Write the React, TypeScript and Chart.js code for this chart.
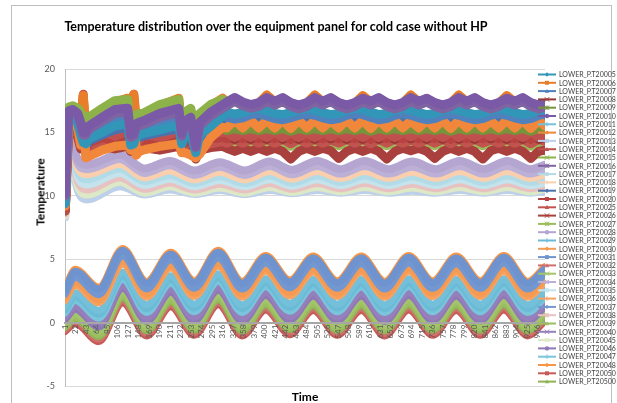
import React, { useEffect, useRef } from "react";
import { Chart, registerables } from "chart.js";

Chart.register(...registerables);

// ---------- category tick labels (Time axis) ----------
const X_TICKS = [1, 22, 43, 64, 85, 106, 127, 148, 169, 190, 211, 232, 253, 274, 295, 316, 337, 358, 379, 400, 421, 442, 463, 484, 505, 526, 547, 568, 589, 610, 631, 652, 673, 694, 715, 736, 757, 778, 799, 820, 841, 862, 883, 904, 925, 946];

// ---------- sample times (x) for each family of sensors ----------
const T_UP = [1, 4, 8, 16, 26, 32, 37, 42, 48, 75, 100, 126, 132, 138, 143, 149, 156, 190, 228, 234, 240, 252, 262, 270, 292, 316,
  324, 340, 356, 372, 388, 404, 420, 436, 452, 468, 484, 500, 516, 532, 548, 564, 580, 596, 612, 628, 644, 660, 676, 692, 708, 724, 740, 756, 772, 788, 804, 820, 836, 852, 868, 884, 900, 916, 932, 948, 960];
const T_MID = [1, 6, 12, 18, 26, 45, 110, 160, 210, 260, 310, 360, 410, 455, 505, 552, 600, 648, 695, 742, 790, 838, 885, 932, 960];
const T_LOW = [1, 21, 68, 116, 164, 212, 259, 307, 355, 402, 450, 497, 545, 593, 640, 688, 736, 783, 831, 878, 926, 960];

// ---------- upper sensors (13 - 18 °C) ----------
const P_T20005 = [9.4, 13.0, 16.3, 16.4, 15.7, 14.8, 14.2, 14.1, 14.5, 15.0, 15.5, 15.7, 14.0, 14.1, 14.7, 14.8, 14.9, 15.2, 15.6, 14.1, 14.8, 15.1, 13.4, 14.8, 15.5, 16.3,
  16.6, 16.45, 16.55, 16.8, 16.9, 16.7, 16.5, 16.4, 16.55, 16.75, 16.9, 16.75, 16.55, 16.4, 16.5, 16.75, 16.9, 16.8, 16.6, 16.4,
  16.5, 16.75, 16.9, 16.75, 16.55, 16.4, 16.5, 16.75, 16.9, 16.75, 16.55, 16.4, 16.5, 16.75, 16.9, 16.75, 16.55, 16.4, 16.5, 16.75, 16.85];
const P_T20006 = [10.5, 14.2, 16.9, 17.0, 16.8, 16.3, 17.9, 15.5, 16.0, 16.8, 17.4, 17.7, 15.2, 18.0, 16.2, 16.3, 16.4, 17.1, 17.7, 15.3, 16.4, 16.8, 14.2, 16.3, 17.1, 17.7,
  17.35, 17.7, 17.35, 17.15, 17.3, 17.95, 17.4, 17.7, 17.3, 17.1, 17.3, 17.95, 17.4, 17.7, 17.3, 17.1, 17.3, 17.9, 17.4, 17.7,
  17.3, 17.1, 17.3, 17.95, 17.4, 17.65, 17.3, 17.1, 17.3, 17.95, 17.4, 17.7, 17.3, 17.1, 17.3, 17.9, 17.4, 17.7, 17.3, 17.1, 17.25];
const P_T20007 = [9.8, 13.4, 16.5, 16.6, 16.1, 15.2, 14.6, 14.5, 14.9, 15.6, 16.1, 16.3, 14.4, 14.5, 15.1, 15.2, 15.3, 15.8, 16.2, 14.5, 15.3, 15.6, 13.6, 15.2, 15.9, 16.4,
  16.2, 16.05, 16.15, 16.4, 16.5, 16.3, 16.1, 16.0, 16.15, 16.35, 16.5, 16.35, 16.15, 16.0, 16.1, 16.35, 16.5, 16.4, 16.2, 16.0,
  16.1, 16.35, 16.5, 16.35, 16.15, 16.0, 16.1, 16.35, 16.5, 16.35, 16.15, 16.0, 16.1, 16.35, 16.5, 16.35, 16.15, 16.0, 16.1, 16.35, 16.45];
const P_T20008 = [10.3, 14.0, 16.8, 16.9, 16.6, 16.0, 15.2, 15.2, 15.8, 16.6, 17.2, 17.3, 15.0, 15.2, 16.0, 16.1, 16.2, 16.9, 17.3, 15.1, 16.2, 16.5, 14.0, 16.1, 16.9, 17.3,
  14.75, 14.45, 14.75, 14.45, 14.75, 14.45, 14.8, 14.45, 14.75, 14.45, 14.75, 14.45, 14.75, 14.5, 14.75, 14.45, 14.75, 14.45, 14.8, 14.45,
  14.75, 14.45, 14.75, 14.5, 14.75, 14.45, 14.75, 14.45, 14.8, 14.45, 14.75, 14.45, 14.75, 14.5, 14.75, 14.45, 14.75, 14.45, 14.8, 14.45, 14.6];
const P_T20009 = [9.6, 13.2, 16.4, 16.5, 15.9, 15.0, 14.4, 14.3, 14.7, 15.3, 15.8, 16.0, 14.2, 14.3, 14.9, 15.0, 15.1, 15.5, 15.9, 14.3, 15.0, 15.3, 13.5, 15.0, 15.6, 16.1,
  15.15, 15.3, 15.15, 15.3, 15.15, 15.3, 15.15, 15.3, 15.1, 15.3, 15.15, 15.3, 15.15, 15.3, 15.15, 15.3, 15.15, 15.3, 15.1, 15.3,
  15.15, 15.3, 15.15, 15.3, 15.15, 15.3, 15.15, 15.3, 15.1, 15.3, 15.15, 15.3, 15.15, 15.3, 15.15, 15.3, 15.15, 15.3, 15.1, 15.3, 15.2];
const P_T20010 = [10.2, 13.8, 16.7, 16.8, 16.5, 15.8, 15.0, 15.0, 15.5, 16.2, 16.8, 16.9, 14.8, 14.9, 15.7, 15.8, 15.9, 16.5, 16.9, 14.9, 15.9, 16.2, 13.9, 15.8, 16.6, 17.2,
  17.4, 17.75, 17.4, 17.2, 17.35, 17.75, 17.45, 17.75, 17.35, 17.15, 17.35, 17.75, 17.45, 17.75, 17.35, 17.15, 17.35, 17.7, 17.45, 17.75,
  17.35, 17.15, 17.35, 17.75, 17.45, 17.7, 17.35, 17.15, 17.35, 17.75, 17.45, 17.75, 17.35, 17.15, 17.35, 17.7, 17.45, 17.75, 17.35, 17.15, 17.3];
const P_T20012 = [9.2, 12.5, 16.0, 16.2, 15.3, 14.0, 17.9, 13.0, 13.1, 13.6, 13.9, 14.0, 13.6, 17.8, 13.2, 13.5, 13.6, 13.9, 14.1, 13.4, 13.4, 13.2, 13.0, 13.3, 14.6, 15.4,
  15.35, 15.95, 15.35, 15.95, 15.35, 15.95, 15.35, 15.95, 15.3, 15.95, 15.35, 15.95, 15.35, 15.9, 15.35, 15.95, 15.35, 15.95, 15.3, 15.95,
  15.35, 15.95, 15.35, 15.9, 15.35, 15.95, 15.35, 15.95, 15.3, 15.95, 15.35, 15.95, 15.35, 15.9, 15.35, 15.95, 15.35, 15.95, 15.3, 15.95, 15.5];
const P_T20014 = [9.1, 12.4, 15.9, 16.1, 15.2, 14.5, 18.0, 14.0, 14.6, 15.1, 14.7, 15.1, 14.2, 18.0, 14.0, 14.4, 14.9, 14.6, 15.1, 14.3, 14.5, 14.9, 13.4, 14.4, 14.9, 15.0,
  15.0, 14.6, 15.0, 14.6, 15.0, 14.6, 15.05, 14.6, 15.0, 14.6, 15.0, 14.6, 15.0, 14.65, 15.0, 14.6, 15.0, 14.6, 15.05, 14.6,
  15.0, 14.6, 15.0, 14.65, 15.0, 14.6, 15.0, 14.6, 15.05, 14.6, 15.0, 14.6, 15.0, 14.65, 15.0, 14.6, 15.0, 14.6, 15.05, 14.6, 14.8];
const P_T20015 = [10.8, 14.5, 17.0, 17.1, 16.9, 16.6, 15.0, 16.3, 16.2, 16.9, 17.5, 17.6, 14.8, 15.5, 16.4, 16.5, 16.5, 17.2, 17.6, 15.0, 16.6, 16.9, 14.5, 16.5, 17.2, 17.6,
  17.25, 17.6, 17.25, 17.05, 17.2, 17.6, 17.3, 17.6, 17.2, 17.0, 17.2, 17.6, 17.3, 17.6, 17.2, 17.0, 17.2, 17.55, 17.3, 17.6,
  17.2, 17.0, 17.2, 17.6, 17.3, 17.55, 17.2, 17.0, 17.2, 17.6, 17.3, 17.6, 17.2, 17.0, 17.2, 17.55, 17.3, 17.6, 17.2, 17.0, 17.15];
const P_T20016 = [10.0, 13.6, 16.6, 16.7, 16.3, 15.5, 14.8, 14.8, 15.2, 15.9, 16.5, 16.6, 14.6, 14.7, 15.4, 15.5, 15.6, 16.2, 16.6, 14.7, 15.6, 15.9, 13.8, 15.5, 16.3, 16.9,
  17.1, 17.45, 17.1, 16.9, 17.05, 17.45, 17.15, 17.45, 17.05, 16.85, 17.05, 17.45, 17.15, 17.45, 17.05, 16.85, 17.05, 17.4, 17.15, 17.45,
  17.05, 16.85, 17.05, 17.45, 17.15, 17.4, 17.05, 16.85, 17.05, 17.45, 17.15, 17.45, 17.05, 16.85, 17.05, 17.4, 17.15, 17.45, 17.05, 16.85, 17.0];
const P_T20019 = [9.3, 12.8, 16.2, 16.3, 15.5, 14.6, 14.0, 13.9, 14.3, 14.8, 15.2, 15.4, 13.9, 14.0, 14.5, 14.6, 14.7, 15.0, 15.3, 14.0, 14.6, 14.9, 13.3, 14.6, 15.2, 15.9,
  15.85, 15.9, 15.85, 15.9, 15.85, 15.9, 15.85, 15.9, 15.85, 15.9, 15.85, 15.9, 15.85, 15.9, 15.85, 15.9, 15.85, 15.9, 15.85, 15.9,
  15.85, 15.9, 15.85, 15.9, 15.85, 15.9, 15.85, 15.9, 15.85, 15.9, 15.85, 15.9, 15.85, 15.9, 15.85, 15.9, 15.85, 15.9, 15.85, 15.9, 15.85];
const P_T20020 = [9.0, 12.2, 15.8, 16.0, 15.0, 14.2, 16.5, 13.7, 14.2, 14.6, 14.3, 14.7, 13.9, 17.5, 13.7, 14.0, 14.5, 14.2, 14.7, 14.0, 14.2, 14.5, 13.2, 14.1, 14.5, 14.6,
  14.5, 14.9, 14.5, 14.9, 14.5, 14.9, 14.5, 14.9, 14.45, 14.9, 14.5, 14.9, 14.5, 14.85, 14.5, 14.9, 14.5, 14.9, 14.45, 14.9,
  14.5, 14.9, 14.5, 14.85, 14.5, 14.9, 14.5, 14.9, 14.45, 14.9, 14.5, 14.9, 14.5, 14.85, 14.5, 14.9, 14.5, 14.9, 14.45, 14.9, 14.7];
const P_T20025 = [8.9, 12.0, 15.6, 15.8, 14.8, 13.9, 15.5, 13.5, 13.9, 14.2, 14.0, 14.3, 13.7, 16.5, 13.5, 13.8, 14.1, 13.9, 14.3, 13.7, 13.9, 14.1, 13.0, 13.8, 14.1, 14.3,
  14.15, 14.45, 14.15, 14.45, 14.15, 14.45, 14.15, 14.45, 14.1, 14.45, 14.15, 14.45, 14.15, 14.4, 14.15, 14.45, 14.15, 14.45, 14.1, 14.45,
  14.15, 14.45, 14.15, 14.4, 14.15, 14.45, 14.15, 14.45, 14.1, 14.45, 14.15, 14.45, 14.15, 14.4, 14.15, 14.45, 14.15, 14.45, 14.1, 14.45, 14.3];
const P_T20026 = [8.8, 11.8, 15.4, 15.6, 14.6, 13.7, 14.5, 13.3, 13.6, 13.9, 13.7, 13.9, 13.5, 15.5, 13.3, 13.6, 13.8, 13.6, 13.9, 13.5, 13.6, 13.8, 12.9, 13.6, 13.8, 13.9,
  13.75, 13.5, 13.75, 13.5, 13.75, 13.5, 13.75, 13.5, 12.9, 13.5, 13.75, 13.5, 13.75, 13.55, 12.95, 13.5, 13.75, 13.5, 13.75, 13.5,
  12.9, 13.5, 13.75, 13.55, 13.75, 13.5, 12.95, 13.5, 13.75, 13.5, 13.75, 13.5, 12.9, 13.55, 13.75, 13.5, 13.75, 13.5, 12.95, 13.5, 13.6];
const P_T20027 = [8.8, 12.0, 15.5, 15.7, 14.7, 13.8, 14.8, 13.4, 13.8, 14.4, 14.2, 14.5, 13.6, 16.0, 13.4, 13.7, 14.3, 14.0, 14.5, 13.6, 13.8, 14.3, 13.1, 13.7, 14.3, 14.5,
  13.95, 14.2, 13.95, 14.2, 13.95, 14.2, 13.95, 14.2, 13.9, 14.2, 13.95, 14.2, 13.95, 14.15, 13.95, 14.2, 13.95, 14.2, 13.9, 14.2,
  13.95, 14.2, 13.95, 14.15, 13.95, 14.2, 13.95, 14.2, 13.9, 14.2, 13.95, 14.2, 13.95, 14.15, 13.95, 14.2, 13.95, 14.2, 13.9, 14.2, 14.05];

// ---------- middle sensors (10 - 13.5 °C) ----------
const P_T20028 = [9.6, 13.5, 16.6, 14.2, 12.9, 12.45, 13.25, 12.15, 12.75, 12.0, 12.65, 12.0, 12.7, 12.05, 12.75, 12.1, 12.75, 12.1, 12.7, 12.1, 12.75, 12.1, 12.75, 12.1, 12.45];
const P_T20034 = [9.4, 13.2, 16.4, 13.9, 12.55, 12.1, 12.9, 11.8, 12.4, 11.65, 12.3, 11.65, 12.35, 11.7, 12.35, 11.75, 12.35, 11.75, 12.3, 11.75, 12.35, 11.75, 12.35, 11.75, 12.05];
const P_T20018 = [9.2, 12.9, 16.2, 13.6, 12.2, 11.7, 12.5, 11.45, 12.0, 11.3, 11.9, 11.3, 11.95, 11.35, 11.95, 11.4, 11.95, 11.4, 11.9, 11.4, 11.95, 11.4, 11.95, 11.4, 11.7];
const P_T20017 = [9.0, 12.6, 16.0, 13.3, 11.85, 11.3, 12.15, 11.15, 11.65, 11.0, 11.55, 11.0, 11.6, 11.05, 11.6, 11.1, 11.6, 11.1, 11.55, 11.1, 11.6, 11.1, 11.6, 11.1, 11.35];
const P_T20035 = [8.8, 12.3, 15.8, 13.0, 11.5, 10.9, 11.8, 10.85, 11.35, 10.75, 11.25, 10.75, 11.3, 10.8, 11.3, 10.85, 11.3, 10.85, 11.25, 10.85, 11.3, 10.85, 11.3, 10.85, 11.05];
const P_T20038 = [8.6, 12.0, 15.6, 12.7, 11.15, 10.5, 11.45, 10.55, 11.05, 10.5, 10.95, 10.5, 11.0, 10.55, 11.0, 10.6, 11.0, 10.6, 10.95, 10.6, 11.0, 10.6, 11.0, 10.6, 10.8];
const P_T20045 = [8.45, 11.7, 15.3, 12.4, 10.8, 10.1, 11.1, 10.25, 10.75, 10.25, 10.65, 10.25, 10.7, 10.3, 10.7, 10.35, 10.7, 10.35, 10.65, 10.35, 10.7, 10.35, 10.7, 10.35, 10.55];
const P_T20013 = [8.3, 11.4, 15.0, 12.1, 10.45, 9.7, 10.75, 10.1, 10.5, 10.15, 10.45, 10.15, 10.45, 10.2, 10.45, 10.25, 10.45, 10.25, 10.4, 10.25, 10.45, 10.25, 10.45, 10.25, 10.35];

// ---------- lower sensors (-1.5 - 6 °C) ----------
const P_T20048 = [2.74, 4.2, 2.8, 5.85, 3.25, 5.55, 3.3, 5.7, 3.25, 5.3, 3.35, 5.25, 3.3, 5.25, 3.25, 5.3, 3.3, 5.25, 3.3, 5.3, 3.25, 4.4];
const P_T20031 = [2.62, 4.05, 2.65, 5.7, 3.1, 5.4, 3.15, 5.55, 3.1, 5.15, 3.2, 5.1, 3.15, 5.1, 3.1, 5.15, 3.15, 5.1, 3.15, 5.15, 3.1, 4.25];
const P_T20037 = [2.26, 3.6, 2.2, 5.25, 2.65, 4.95, 2.7, 5.1, 2.65, 4.7, 2.75, 4.65, 2.7, 4.65, 2.65, 4.7, 2.7, 4.65, 2.7, 4.7, 2.65, 3.8];
const P_T20030 = [1.94, 3.2, 1.8, 4.85, 2.25, 4.55, 2.3, 4.7, 2.25, 4.3, 2.35, 4.25, 2.3, 4.25, 2.25, 4.3, 2.3, 4.25, 2.3, 4.3, 2.25, 3.4];
const P_T20036 = [1.74, 2.95, 1.55, 4.6, 2.0, 4.3, 2.05, 4.45, 2.0, 4.05, 2.1, 4.0, 2.05, 4.0, 2.0, 4.05, 2.05, 4.0, 2.05, 4.05, 2.0, 3.15];
const P_T20011 = [1.26, 2.35, 0.95, 4.0, 1.4, 3.7, 1.45, 3.85, 1.4, 3.45, 1.5, 3.4, 1.45, 3.4, 1.4, 3.45, 1.45, 3.4, 1.45, 3.45, 1.4, 2.55];
const P_T20029 = [1.02, 2.05, 0.65, 3.7, 1.1, 3.4, 1.15, 3.55, 1.1, 3.15, 1.2, 3.1, 1.15, 3.1, 1.1, 3.15, 1.15, 3.1, 1.15, 3.15, 1.1, 2.25];
const P_T20047 = [0.78, 1.75, 0.35, 3.4, 0.8, 3.1, 0.85, 3.25, 0.8, 2.85, 0.9, 2.8, 0.85, 2.8, 0.8, 2.85, 0.85, 2.8, 0.85, 2.85, 0.8, 1.95];
const P_T20040 = [0.42, 1.3, -0.1, 2.95, 0.35, 2.65, 0.4, 2.8, 0.35, 2.4, 0.45, 2.35, 0.4, 2.35, 0.35, 2.4, 0.4, 2.35, 0.4, 2.4, 0.35, 1.5];
const P_T20046 = [0.22, 1.05, -0.35, 2.7, 0.1, 2.4, 0.15, 2.55, 0.1, 2.15, 0.2, 2.1, 0.15, 2.1, 0.1, 2.15, 0.15, 2.1, 0.15, 2.15, 0.1, 1.25];
const P_T20033 = [-0.06, 0.7, -0.7, 2.35, -0.25, 2.05, -0.2, 2.2, -0.25, 1.8, -0.15, 1.75, -0.2, 1.75, -0.25, 1.8, -0.2, 1.75, -0.2, 1.8, -0.25, 0.9];
const P_T20039 = [-0.26, 0.45, -0.95, 2.1, -0.5, 1.8, -0.45, 1.95, -0.5, 1.55, -0.4, 1.5, -0.45, 1.5, -0.5, 1.55, -0.45, 1.5, -0.45, 1.55, -0.5, 0.65];
const P_T20500 = [-0.38, 0.3, -1.1, 1.95, -0.65, 1.65, -0.6, 1.8, -0.65, 1.4, -0.55, 1.35, -0.6, 1.35, -0.65, 1.4, -0.6, 1.35, -0.6, 1.4, -0.65, 0.5];
const P_T20032 = [-0.54, 0.1, -1.3, 1.75, -0.85, 1.45, -0.8, 1.6, -0.85, 1.2, -0.75, 1.15, -0.8, 1.15, -0.85, 1.2, -0.8, 1.15, -0.8, 1.2, -0.85, 0.3];
const P_T20050 = [-0.7, -0.1, -1.5, 1.55, -1.05, 1.25, -1.0, 1.4, -1.05, 1.0, -0.95, 0.95, -1.0, 0.95, -1.05, 1.0, -1.0, 0.95, -1.0, 1.0, -1.05, 0.1];

// ---------- series table (legend order) ----------
const SERIES = [
  { name: "LOWER_P.T20005", t: T_UP, v: P_T20005 },
  { name: "LOWER_P.T20006", t: T_UP, v: P_T20006 },
  { name: "LOWER_P.T20007", t: T_UP, v: P_T20007 },
  { name: "LOWER_P.T20008", t: T_UP, v: P_T20008 },
  { name: "LOWER_P.T20009", t: T_UP, v: P_T20009 },
  { name: "LOWER_P.T20010", t: T_UP, v: P_T20010 },
  { name: "LOWER_P.T20011", t: T_LOW, v: P_T20011 },
  { name: "LOWER_P.T20012", t: T_UP, v: P_T20012 },
  { name: "LOWER_P.T20013", t: T_MID, v: P_T20013 },
  { name: "LOWER_P.T20014", t: T_UP, v: P_T20014 },
  { name: "LOWER_P.T20015", t: T_UP, v: P_T20015 },
  { name: "LOWER_P.T20016", t: T_UP, v: P_T20016 },
  { name: "LOWER_P.T20017", t: T_MID, v: P_T20017 },
  { name: "LOWER_P.T20018", t: T_MID, v: P_T20018 },
  { name: "LOWER_P.T20019", t: T_UP, v: P_T20019 },
  { name: "LOWER_P.T20020", t: T_UP, v: P_T20020 },
  { name: "LOWER_P.T20025", t: T_UP, v: P_T20025 },
  { name: "LOWER_P.T20026", t: T_UP, v: P_T20026 },
  { name: "LOWER_P.T20027", t: T_UP, v: P_T20027 },
  { name: "LOWER_P.T20028", t: T_MID, v: P_T20028 },
  { name: "LOWER_P.T20029", t: T_LOW, v: P_T20029 },
  { name: "LOWER_P.T20030", t: T_LOW, v: P_T20030 },
  { name: "LOWER_P.T20031", t: T_LOW, v: P_T20031 },
  { name: "LOWER_P.T20032", t: T_LOW, v: P_T20032 },
  { name: "LOWER_P.T20033", t: T_LOW, v: P_T20033 },
  { name: "LOWER_P.T20034", t: T_MID, v: P_T20034 },
  { name: "LOWER_P.T20035", t: T_MID, v: P_T20035 },
  { name: "LOWER_P.T20036", t: T_LOW, v: P_T20036 },
  { name: "LOWER_P.T20037", t: T_LOW, v: P_T20037 },
  { name: "LOWER_P.T20038", t: T_MID, v: P_T20038 },
  { name: "LOWER_P.T20039", t: T_LOW, v: P_T20039 },
  { name: "LOWER_P.T20040", t: T_LOW, v: P_T20040 },
  { name: "LOWER_P.T20045", t: T_MID, v: P_T20045 },
  { name: "LOWER_P.T20046", t: T_LOW, v: P_T20046 },
  { name: "LOWER_P.T20047", t: T_LOW, v: P_T20047 },
  { name: "LOWER_P.T20048", t: T_LOW, v: P_T20048 },
  { name: "LOWER_P.T20050", t: T_LOW, v: P_T20050 },
  { name: "LOWER_P.T20500", t: T_LOW, v: P_T20500 },
];

// ---------- styles ----------
const COLORS = [
  "#3296B9", "#E87D2A", "#4F81BD", "#953735", "#77933C", "#7A5AA6", "#74C0DA", "#F0873A",
  "#BCD0EA", "#C0504D", "#8DB24A", "#8064A2", "#B2DBE8", "#F9CFAE", "#4A73AE", "#B8423F",
  "#C25450", "#A9403D", "#9BBB59", "#B4A6D0", "#6CBBD6", "#F59A52", "#6F93CE", "#D0706C",
  "#A3C46A", "#BDB0D6", "#C4E3EC", "#F7A260", "#7397D0", "#E7C2C1", "#9BBE60", "#9580BC",
  "#DDE8C6", "#8E78B6", "#7AC4DC", "#F79646", "#C75A56", "#8FB456",
];
const DRAW_ORDER = [
  5, 4, 6, 12, 9, 1, 35, 7, 27, 10, 3, 2, 23, 22, 8, 11, 13, 14, 15, 20,
  36, 33, 30, 43, 40, 21, 24, 34, 31, 25, 41, 38, 26, 39, 37, 32, 44, 42,
];
const LINE_WIDTH: Record<string, number> = { up: 9, mid: 8, low: 7 };
const LEGEND_MARKERS = ["diamond", "square", "triangle", "cross", "star", "circle", "plus"];

function drawMarker(ctx: CanvasRenderingContext2D, shape: string, x: number, y: number, color: string) {
  const r = 2.2;
  ctx.fillStyle = color;
  ctx.strokeStyle = color;
  ctx.lineWidth = 1;
  ctx.beginPath();
  if (shape === "diamond") {
    ctx.moveTo(x, y - r); ctx.lineTo(x + r, y); ctx.lineTo(x, y + r); ctx.lineTo(x - r, y); ctx.closePath(); ctx.fill();
  } else if (shape === "square") {
    ctx.rect(x - r * 0.9, y - r * 0.9, r * 1.8, r * 1.8); ctx.fill();
  } else if (shape === "triangle") {
    ctx.moveTo(x, y - r); ctx.lineTo(x + r, y + r * 0.8); ctx.lineTo(x - r, y + r * 0.8); ctx.closePath(); ctx.fill();
  } else if (shape === "cross") {
    ctx.moveTo(x - r, y - r); ctx.lineTo(x + r, y + r); ctx.moveTo(x + r, y - r); ctx.lineTo(x - r, y + r); ctx.stroke();
  } else if (shape === "star") {
    ctx.moveTo(x - r, y - r); ctx.lineTo(x + r, y + r); ctx.moveTo(x + r, y - r); ctx.lineTo(x - r, y + r);
    ctx.moveTo(x, y - r); ctx.lineTo(x, y + r); ctx.stroke();
  } else if (shape === "circle") {
    ctx.arc(x, y, r, 0, Math.PI * 2); ctx.fill();
  } else {
    ctx.moveTo(x - r, y); ctx.lineTo(x + r, y); ctx.moveTo(x, y - r); ctx.lineTo(x, y + r); ctx.stroke();
  }
}

const sideLegend = {
  id: "sideLegend",
  afterDraw(chart: any) {
    const ctx: CanvasRenderingContext2D = chart.ctx;
    ctx.save();
    chart.data.datasets.forEach((ds: any, i: number) => {
      const y = 74.5 + i * 8.3;
      ctx.strokeStyle = ds.borderColor;
      ctx.lineWidth = 2;
      ctx.beginPath();
      ctx.moveTo(538, y);
      ctx.lineTo(556, y);
      ctx.stroke();
      drawMarker(ctx, LEGEND_MARKERS[i % LEGEND_MARKERS.length], 547, y, ds.borderColor);
      ctx.fillStyle = "#404040";
      ctx.font = "7px Lato";
      ctx.textAlign = "left";
      ctx.textBaseline = "middle";
      ctx.fillText(ds.label, 559, y + 0.5);
    });
    ctx.restore();
  },
};

export default function App() {
  const canvasRef = useRef<HTMLCanvasElement | null>(null);

  useEffect(() => {
    if (!canvasRef.current) return;
    const datasets = SERIES.map((s, i) => {
      const group = s.t === T_UP ? "up" : s.t === T_MID ? "mid" : "low";
      return {
        label: s.name,
        data: s.t.map((x, j) => ({ x, y: s.v[j] })),
        borderColor: COLORS[i],
        backgroundColor: COLORS[i],
        borderWidth: LINE_WIDTH[group],
        pointRadius: 0,
        fill: false,
        order: DRAW_ORDER[i],
        tension: 0,
        cubicInterpolationMode: group === "up" ? "default" : "monotone",
        borderJoinStyle: "round",
        borderCapStyle: "round",
      };
    });

    const chart = new Chart(canvasRef.current, {
      type: "line",
      data: { datasets: datasets as any },
      options: {
        animation: false,
        responsive: false,
        devicePixelRatio: 1,
        events: [],
        layout: { padding: { left: 0, right: 72, top: 69, bottom: 17 } },
        plugins: { legend: { display: false }, tooltip: { enabled: false }, title: { display: false } },
        scales: {
          x: {
            type: "linear",
            min: 0.5,
            max: 960.5,
            position: { y: 0 } as any,
            grid: { display: false, drawTicks: false },
            border: { display: true, color: "#A6A6A6", width: 2, dash: [2, 1], z: 1 },
            ticks: {
              z: 1,
              autoSkip: false,
              minRotation: 90,
              maxRotation: 90,
              padding: 2,
              color: "#595959",
              font: { family: "Lato", size: 8 },
              callback: (v: any) => String(v),
            },
            afterBuildTicks: (axis: any) => {
              axis.ticks = X_TICKS.map((v) => ({ value: v }));
            },
          },
          y: {
            type: "linear",
            min: -5,
            max: 20,
            ticks: { stepSize: 5, padding: 10, color: "#595959", font: { family: "Lato", size: 9 } },
            grid: {
              drawTicks: false,
              color: (c: any) => (c.tick && c.tick.value === 0 ? "rgba(0,0,0,0)" : "#D9D9D9"),
            },
            border: { display: true, color: "#BFBFBF" },
            afterFit: (s: any) => {
              s.width = 65;
            },
          },
        },
      },
      plugins: [sideLegend],
    } as any);
    return () => chart.destroy();
  }, []);

  return (
    <div style={{ position: "fixed", left: 0, top: 0, width: 617, height: 403, background: "#fff", overflow: "hidden" }}>
      <div style={{ position: "absolute", left: 11, top: 5, width: 601, height: 420, border: "1px solid #BFBFBF", boxSizing: "border-box" }} />
      <canvas ref={canvasRef} width={617} height={403} style={{ position: "absolute", left: 0, top: 0, width: 617, height: 403 }} />
      <div style={{ position: "absolute", left: 0, top: 19, width: 552, textAlign: "center", font: "bold 12.5px Lato", lineHeight: "16px", color: "#000", whiteSpace: "nowrap" }}>
        Temperature distribution over the equipment panel for cold case without HP
      </div>
      <div style={{ position: "absolute", left: 40, top: 192, transform: "translate(-50%, -50%) rotate(-90deg)", font: "bold 12px Lato", color: "#000", whiteSpace: "nowrap" }}>
        Temperature
      </div>
      <div style={{ position: "absolute", left: 305, top: 396, transform: "translate(-50%, -50%)", font: "bold 12px Lato", color: "#000", whiteSpace: "nowrap" }}>
        Time
      </div>
    </div>
  );
}
